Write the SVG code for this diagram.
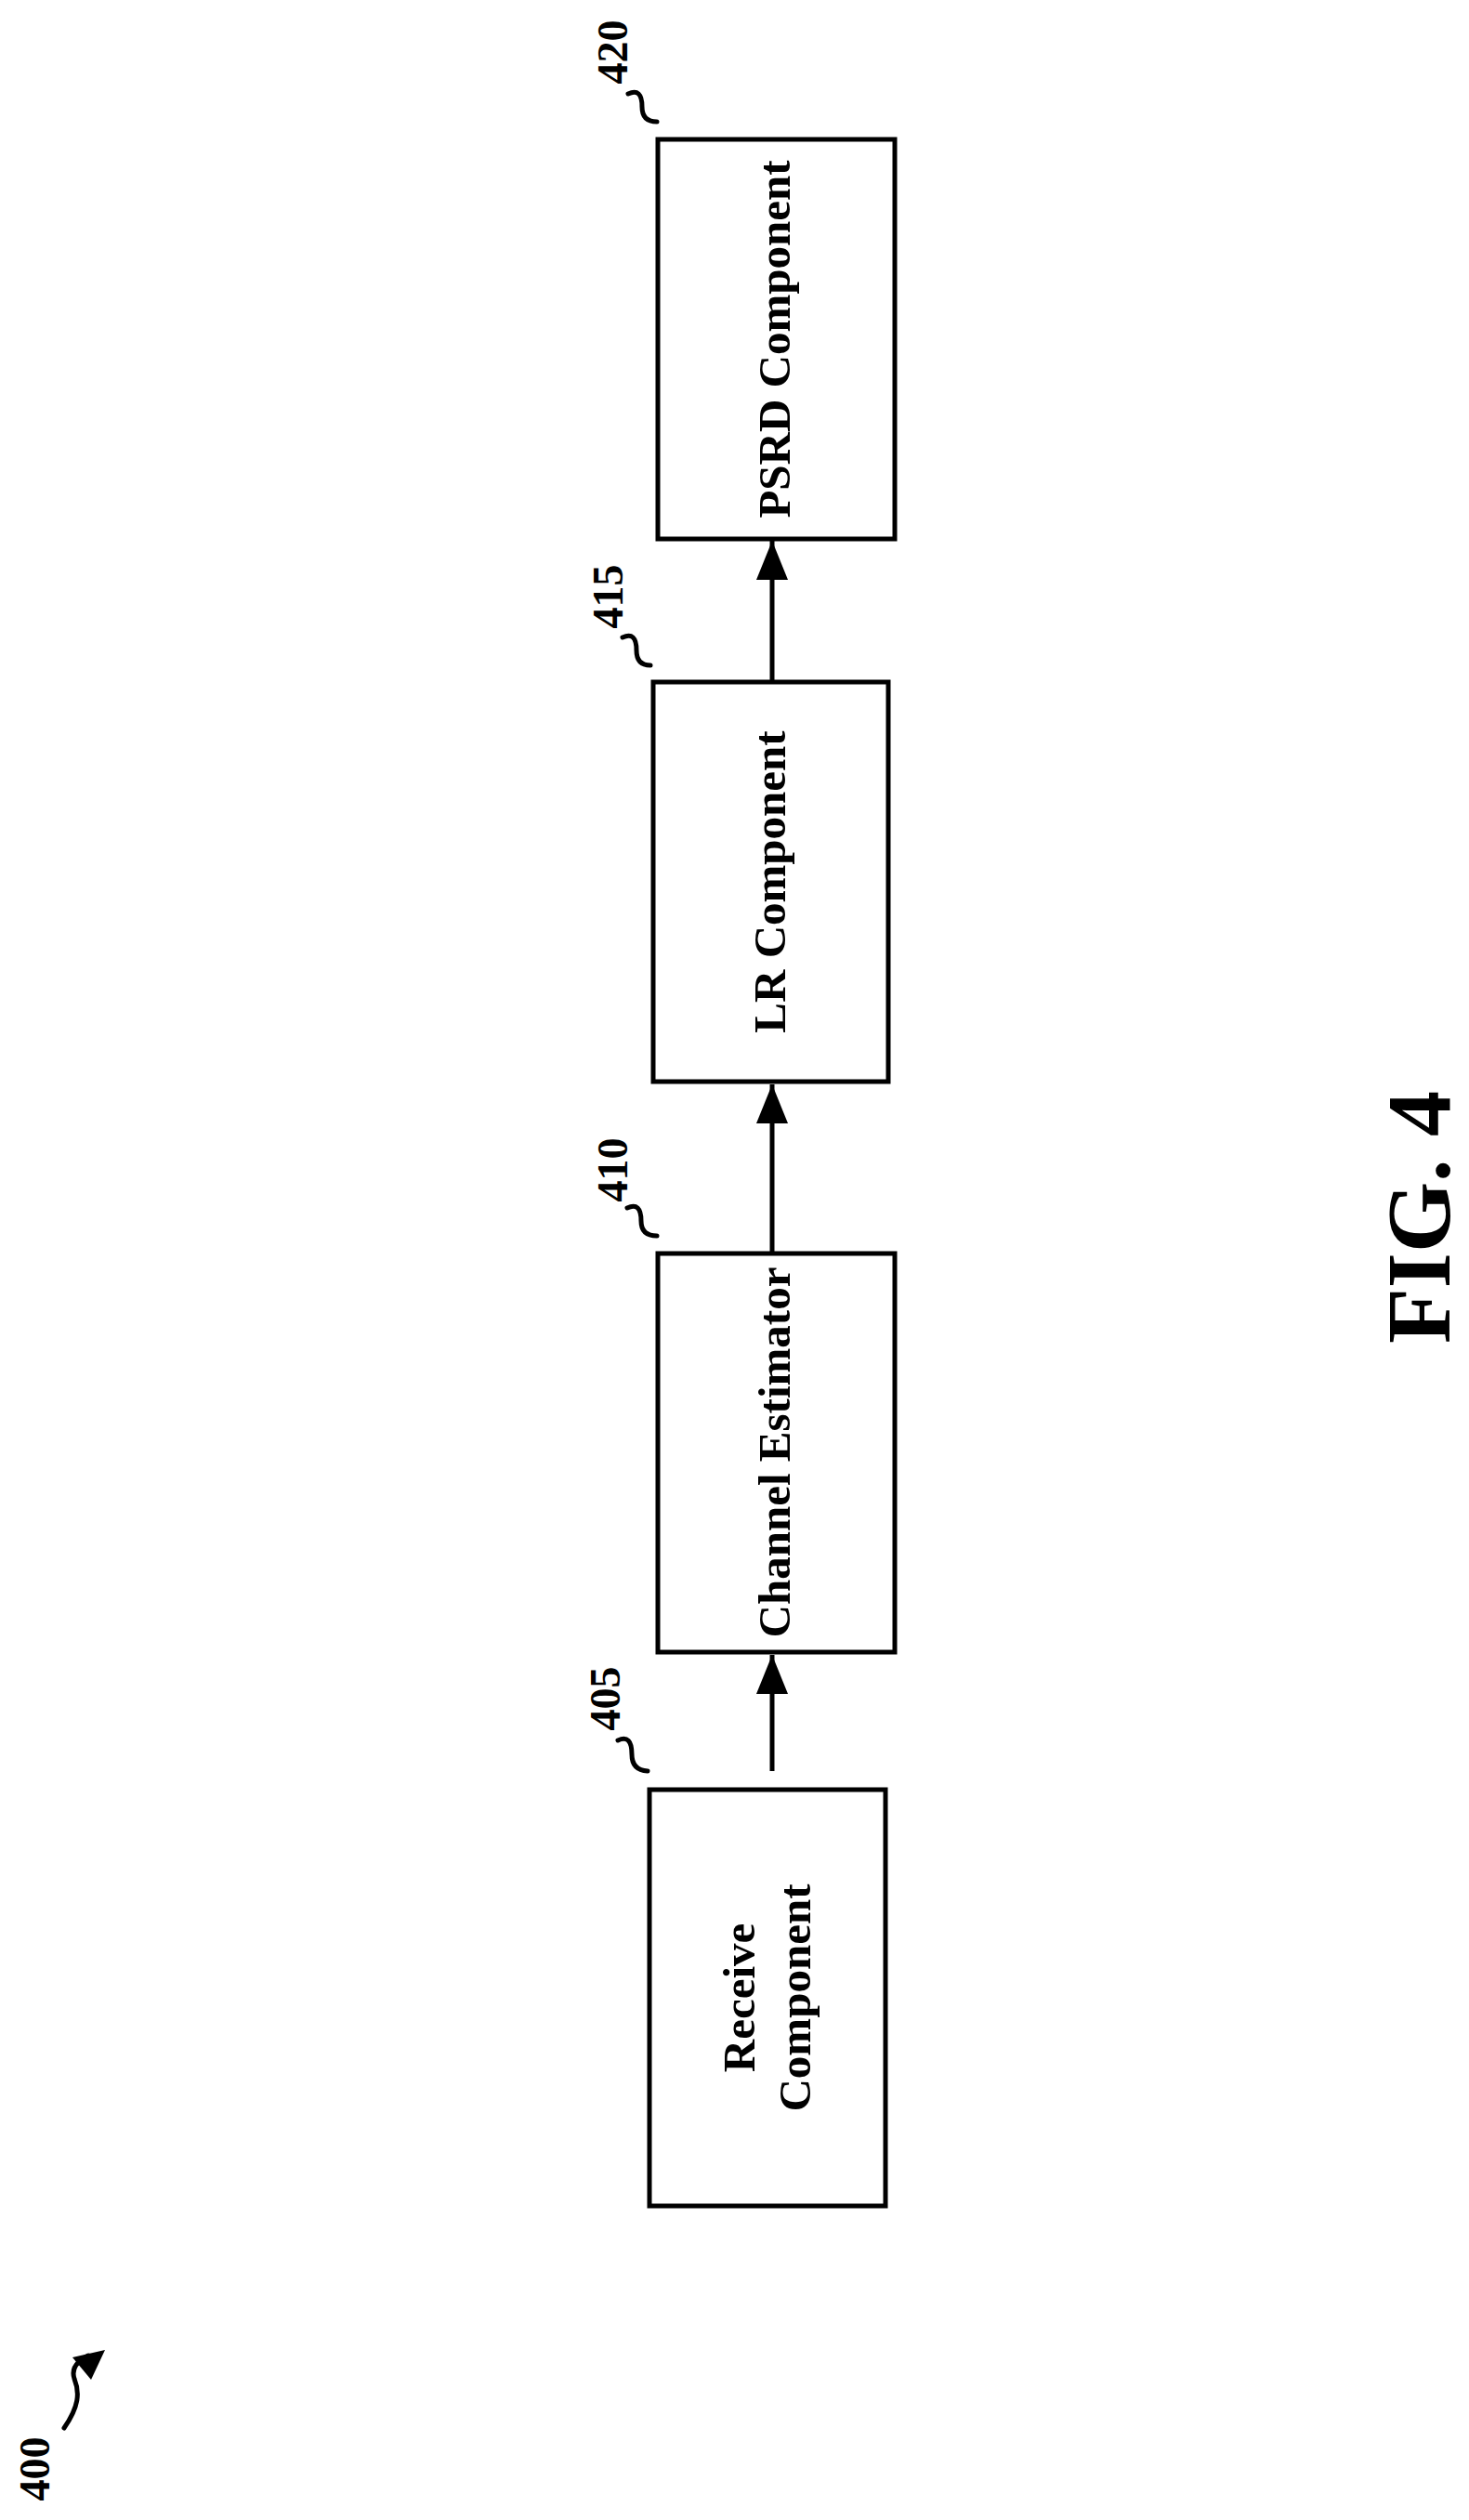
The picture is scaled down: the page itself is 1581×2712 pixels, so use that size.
<svg xmlns="http://www.w3.org/2000/svg" width="1581" height="2712" viewBox="0 0 1581 2712">
<style>
.box{fill:#fff;stroke:#000;stroke-width:5}
.t{font-family:"Liberation Serif",serif;font-weight:bold;font-size:49px;text-anchor:middle}
.l{font-family:"Liberation Serif",serif;font-weight:bold;font-size:46px;text-anchor:middle}
.c{fill:none;stroke:#000;stroke-width:5}
.sq{fill:none;stroke:#000;stroke-width:5;stroke-linecap:round}
</style>
<defs>
<marker id="ah" markerWidth="10" markerHeight="8" refX="10" refY="4" orient="auto" markerUnits="userSpaceOnUse" viewBox="0 0 10 8">
<path d="M0,0 L10,4 L0,8 Z"/>
</marker>
<marker id="a" viewBox="0 0 42 34" refX="42" refY="17" markerWidth="42" markerHeight="34" orient="auto" markerUnits="userSpaceOnUse"><path d="M0,0 L42,17 L0,34 Z"/></marker>
</defs>
<g id="n405">
<rect class="box" x="699" y="1926" width="254" height="448"/>
<text class="t" transform="translate(812,2150) rotate(-90)">Receive</text>
<text class="t" transform="translate(872,2150) rotate(-90)">Component</text>
<text class="l" transform="translate(667,1828) rotate(-90)">405</text>
<path class="sq" d="M665,1873 Q680,1866 680,1888 Q680,1905 697,1906"/>
</g>
<g id="n410">
<rect class="box" x="708" y="1349" width="255" height="429"/>
<text class="t" transform="translate(850,1563) rotate(-90)">Channel Estimator</text>
<text class="l" transform="translate(675,1259) rotate(-90)">410</text>
<path class="sq" d="M675,1300 Q690,1293 690,1314 Q690,1330 707,1330"/>
</g>
<g id="n415">
<rect class="box" x="703" y="734" width="253" height="430"/>
<text class="t" transform="translate(845,949) rotate(-90)">LR Component</text>
<text class="l" transform="translate(670,642) rotate(-90)">415</text>
<path class="sq" d="M670,686 Q685,679 685,700 Q685,716 700,716"/>
</g>
<g id="n420">
<rect class="box" x="708" y="150" width="255" height="430"/>
<text class="t" transform="translate(850,365) rotate(-90)">PSRD Component</text>
<text class="l" transform="translate(675,56) rotate(-90)">420</text>
<path class="sq" d="M676,101 Q691,94 691,115 Q691,131 707,131"/>
</g>
<g id="connectors">
<line class="c" x1="831" y1="1906" x2="831" y2="1781" marker-end="url(#a)"/>
<line class="c" x1="831" y1="1349" x2="831" y2="1167" marker-end="url(#a)"/>
<line class="c" x1="831" y1="734" x2="831" y2="582" marker-end="url(#a)"/>
</g>
<g id="fig">
<text class="l" transform="translate(53,2657) rotate(-90)">400</text>
<path class="sq" d="M69,2613 C85,2590 86,2575 80,2560 C76,2548 85,2540 95,2535"/>
<path d="M78,2537 L113,2529 L98,2561 Z"/>
<text transform="translate(1560,1310) rotate(-90)" style="font-family:'Liberation Serif',serif;font-weight:bold;font-size:98px;text-anchor:middle">FIG. 4</text>
</g>
</svg>
